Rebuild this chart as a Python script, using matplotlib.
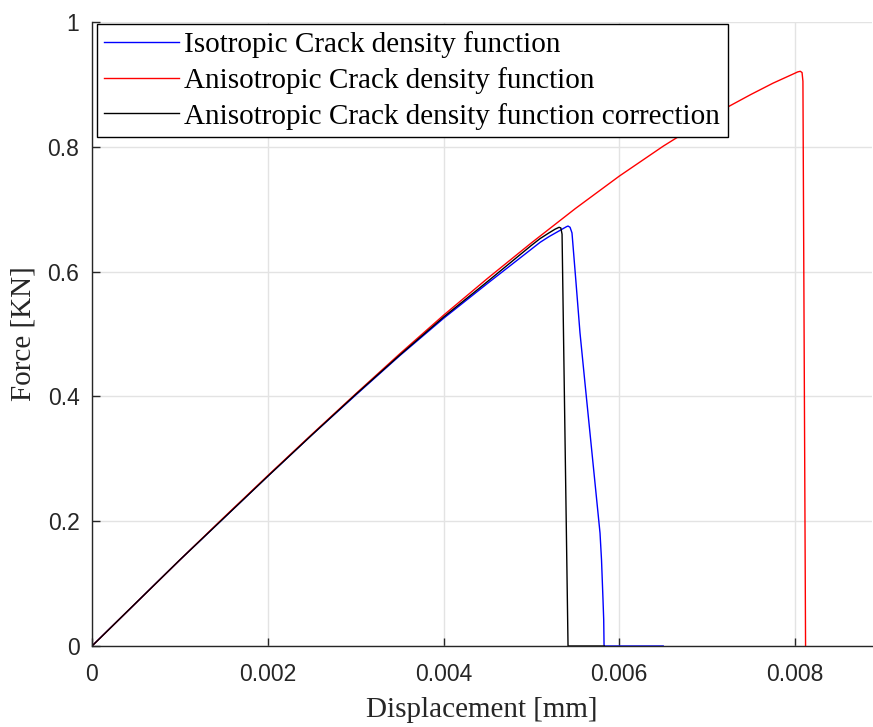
import numpy as np
import matplotlib
matplotlib.use('Agg')
import matplotlib.pyplot as plt

# values
iso_x = [0, 0.0005, 0.001, 0.0015, 0.002, 0.0025, 0.003, 0.0035, 0.004, 0.0045,
         0.005, 0.0051, 0.0052, 0.0053, 0.00535, 0.0054, 0.005417, 0.00544,
         0.005462, 0.005508, 0.005553, 0.00561, 0.005667, 0.005724, 0.005781,
         0.005798, 0.005815, 0.005823, 0.005827, 0.0065]
iso_y = [0, 0.069, 0.138, 0.205, 0.272, 0.338, 0.402, 0.465, 0.525, 0.581,
         0.636, 0.647, 0.656, 0.664, 0.668, 0.672, 0.673, 0.671,
         0.662, 0.582, 0.502, 0.421, 0.341, 0.261, 0.181,
         0.138, 0.074, 0.042, 0.0, 0.0]

aniso_x = [0, 0.0005, 0.001, 0.0015, 0.002, 0.0025, 0.003, 0.0035, 0.004, 0.0045,
           0.005, 0.0055, 0.006, 0.0065, 0.007, 0.00725, 0.0075, 0.00775, 0.008,
           0.00803, 0.00806, 0.00808, 0.00809, 0.00812]
aniso_y = [0, 0.069, 0.138, 0.206, 0.273, 0.339, 0.404, 0.468, 0.530, 0.589,
           0.646, 0.701, 0.753, 0.801, 0.845, 0.865, 0.884, 0.902, 0.918,
           0.920, 0.921, 0.919, 0.905, 0.0]

corr_x = [0, 0.0005, 0.001, 0.0015, 0.002, 0.0025, 0.003, 0.0035, 0.004, 0.0045,
          0.005, 0.0051, 0.0052, 0.00527, 0.005315, 0.005335, 0.005349, 0.005417,
          0.00583]
corr_y = [0, 0.069, 0.138, 0.205, 0.272, 0.338, 0.403, 0.466, 0.527, 0.584,
          0.642, 0.653, 0.662, 0.668, 0.671, 0.670, 0.660, 0.0,
          0.0]

x_ticks = [0, 0.002, 0.004, 0.006, 0.008]
x_labels = ['0', '0.002', '0.004', '0.006', '0.008']
y_ticks = [0, 0.2, 0.4, 0.6, 0.8, 1.0]
y_labels = ['0', '0.2', '0.4', '0.6', '0.8', '1']

labels = ['Isotropic Crack density function',
          'Anisotropic Crack density function',
          'Anisotropic Crack density function correction']

fig = plt.figure(figsize=(8.73, 7.27), dpi=100)
ax = fig.add_axes([92/873, 81/727, 780/873, 624/727])

ax.plot(iso_x, iso_y, color=(0, 0, 1), lw=1.0, label=labels[0])
ax.plot(aniso_x, aniso_y, color=(1, 0, 0), lw=1.0, label=labels[1])
ax.plot(corr_x, corr_y, color='k', lw=1.0, label=labels[2])

ax.set_xlim(0, 0.008876)
ax.set_ylim(0, 1)
ax.set_xticks(x_ticks)
ax.set_xticklabels(x_labels)
ax.set_yticks(y_ticks)
ax.set_yticklabels(y_labels)

ax.grid(True, color='#e3e3e3', lw=1.0)
ax.set_axisbelow(True)
ax.spines['top'].set_visible(False)
ax.spines['right'].set_visible(False)
for s in ['left', 'bottom']:
    ax.spines[s].set_color('#262626')
    ax.spines[s].set_linewidth(1.0)

ax.tick_params(direction='in', length=6, width=1.0, color='#262626',
               labelcolor='#262626', labelsize=16.5)
ax.tick_params(axis='x', pad=12)
ax.tick_params(axis='y', pad=9)
for t in ax.get_xticklabels() + ax.get_yticklabels():
    t.set_fontfamily('Liberation Sans')

ax.set_xlabel('Displacement [mm]', fontfamily='Liberation Serif', fontsize=21,
              color='#262626', labelpad=8)
ax.set_ylabel('Force [KN]', fontfamily='Liberation Serif', fontsize=21,
              color='#262626', labelpad=8)

leg = ax.legend(loc='upper left', bbox_to_anchor=(0.0064, 0.997), borderaxespad=0,
                prop={'family': 'Liberation Serif', 'size': 21},
                fancybox=False, framealpha=1, edgecolor='k',
                borderpad=0.25, labelspacing=0.3, handlelength=2.55,
                handletextpad=0.2)
leg.get_frame().set_linewidth(1.0)

fig.savefig('out.png', dpi=100)
